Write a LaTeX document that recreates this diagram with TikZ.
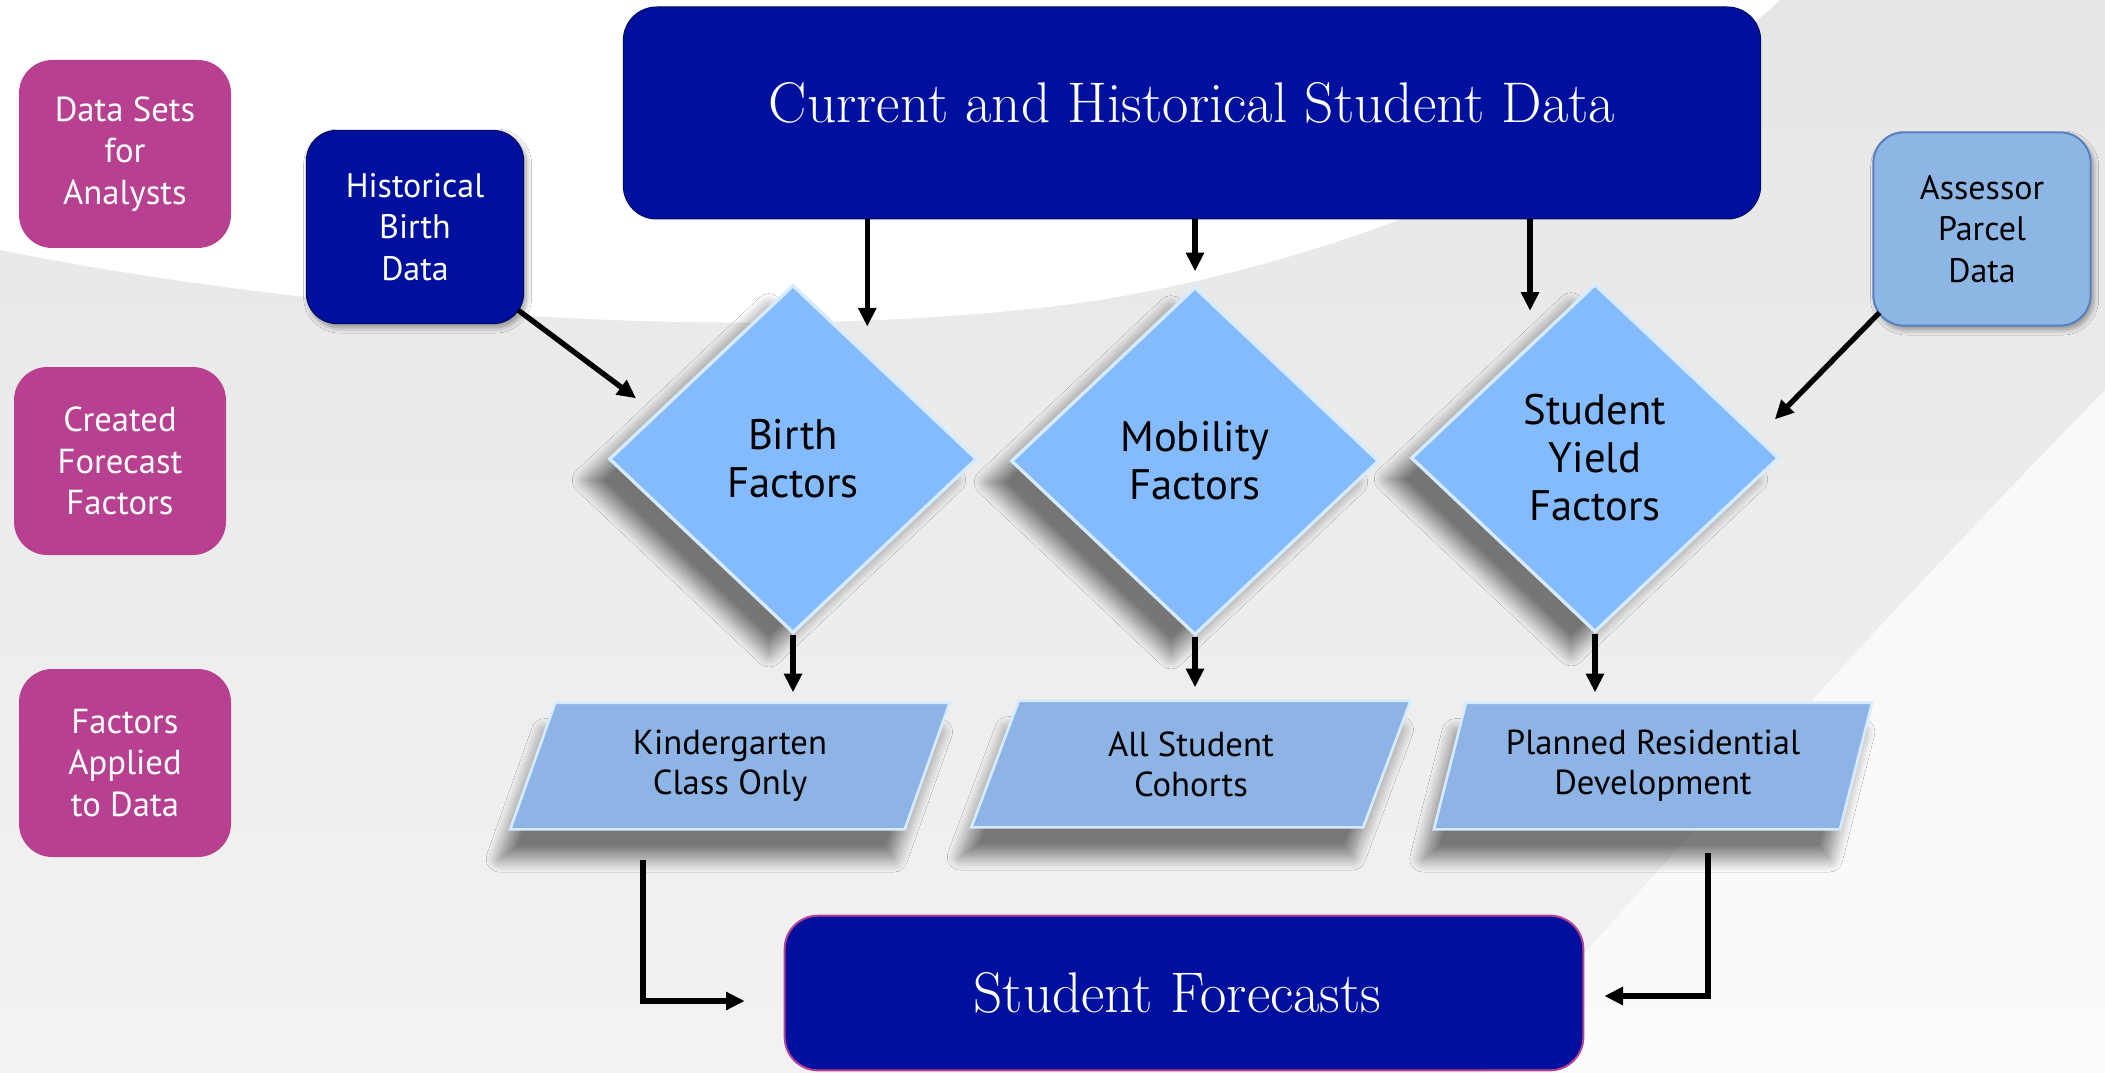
\documentclass[tikz,border=0pt]{standalone}
\usepackage{fontspec}
\setsansfont{PT Sans}
\usetikzlibrary{shapes.geometric,arrows.meta,shadows.blur,calc}

\definecolor{navyBox}{RGB}{0,16,158}
\definecolor{plumBox}{RGB}{183,64,145}
\definecolor{diaBlue}{RGB}{132,187,252}
\definecolor{paraBlue}{RGB}{141,180,228}
\definecolor{paleBlue}{RGB}{141,182,229}
\definecolor{edgeBlue}{RGB}{86,128,190}
\definecolor{shineBlue}{RGB}{214,235,255}
\definecolor{bgGray}{RGB}{230,230,230}

\tikzset{every picture/.style={line width=0.75pt}}
\tikzset{
  legendbox/.style={rectangle, rounded corners=25pt, fill=plumBox, text=white, minimum width=159pt, minimum height=141pt, align=center, font=\sffamily\fontsize{26}{31}\selectfont},
  srcbox/.style={rectangle, rounded corners=23pt, minimum width=163pt, minimum height=145pt, align=center, font=\sffamily\fontsize{25.5}{31}\selectfont, blur shadow={shadow xshift=2pt, shadow yshift=-3pt, shadow blur radius=4pt, shadow blur steps=10, shadow opacity=40}},
  factor/.style={diamond, fill=diaBlue, draw=shineBlue, line width=2.5pt, minimum width=276pt, minimum height=261pt, inner sep=0pt, align=center, font=\sffamily\fontsize{32}{36}\selectfont, blur shadow={shadow xshift=-18pt, shadow yshift=-16pt, shadow blur radius=10pt, shadow blur steps=16, shadow opacity=50}},
  applied/.style={trapezium, trapezium left angle=72, trapezium right angle=108, trapezium stretches=true, fill=paraBlue, draw=shineBlue, line width=2pt, minimum width=330pt, minimum height=95pt, align=center, font=\sffamily\fontsize{26}{30}\selectfont, blur shadow={shadow xshift=-8pt, shadow yshift=-22pt, shadow blur radius=10pt, shadow blur steps=16, shadow opacity=50}},
  bigbox/.style={rectangle, rounded corners=25pt, fill=navyBox, text=white, align=center, font=\rmfamily\addfontfeature{FakeBold=0.8}\fontsize{43}{50}\selectfont},
  arr/.style={line width=4pt, -{Triangle[length=14pt,width=13pt]}},
}

\begin{document}
\begin{tikzpicture}[x=0.75pt,y=0.75pt,yscale=-1,xscale=1]
\useasboundingbox (0,0) rectangle (2105,1073);

%Background
\shade[top color=bgGray, bottom color=white!95!black] (0,0) rectangle (2105,1073);
\fill[white] (0,0) -- (0,250) .. controls (350,320) and (800,345) .. (1100,300) .. controls (1400,250) and (1650,120) .. (1780,0) -- cycle;
\fill[white, opacity=0.7] (1480,1073) .. controls (1700,820) and (1900,600) .. (2105,390) -- (2105,1073) -- cycle;

%Legend boxes
\node (legSets) [legendbox] at (125,154) {Data Sets\\for\\Analysts};
\node (legMade) [legendbox] at (120,461) {Created\\Forecast\\Factors};
\node (legUsed) [legendbox] at (125,763) {Factors\\Applied\\to Data};

%Data sources
\node (top) [bigbox, draw=navyBox!60!black, minimum width=853pt, minimum height=159pt] at (1192,113) {\raisebox{16pt}{Current and Historical Student Data}};
\node (hist) [srcbox, fill=navyBox, draw=navyBox!60!black, text=white] at (415,227) {Historical\\Birth\\Data};
\node (asr) [srcbox, fill=paleBlue, draw=edgeBlue, line width=1.5pt] at (1982,229) {Assessor\\Parcel\\Data};

%Factors
\node (birth) [factor] at (793,459) {Birth\\Factors};
\node (mob) [factor] at (1195,461) {Mobility\\Factors};
\node (yield) [factor] at (1595,458) {Student\\Yield\\Factors};

%Applied to data
\node (kinder) [applied] at (730,766) {Kindergarten\\Class Only};
\node (cohorts) [applied] at (1191,764) {All Student\\Cohorts};
\node (planned) [applied] at (1653,766) {Planned Residential\\Development};

%Result
\node (forecast) [bigbox, draw=plumBox, line width=1.5pt, minimum width=599pt, minimum height=116pt] at (1184,993) {Student Forecasts\hspace*{10pt}};

%Arrows
\coordinate (bIn) at ($(birth.north)!0.4!(birth.east)+(0,-27)$);
\coordinate (yIn) at ($(yield.north)!0.35!(yield.west)+(0,-33)$);
\coordinate (hIn) at ($(birth.west)!0.3!(birth.north)+(-27,-8)$);
\coordinate (aIn) at ($(yield.north)!0.78!(yield.east)+(35,0)$);
\draw[arr] (top.south -| bIn) -- (bIn);
\draw[arr] (top.south -| mob.north) -- ($(mob.north)+(0,-14)$);
\draw[arr] (top.south -| yIn) -- (yIn);
\draw[arr] ($(hist.south east)+(-6,-14)$) -- (hIn);
\draw[arr] ($(asr.south west)+(7,-14)$) -- (aIn);
\draw[arr] (birth.south) -- ($(birth.south |- kinder.north)+(0,-9)$);
\draw[arr] (mob.south) -- ($(mob.south |- cohorts.north)+(0,-12)$);
\draw[arr] (yield.south) -- ($(yield.south |- planned.north)+(0,-9)$);
\draw[arr] ($(kinder.south)+(-87,29)$) |- ($(forecast.west)+(-39,8)$);
\draw[arr] ($(planned.south)+(55,22)$) |- ($(forecast.east)+(20,3)$);

\end{tikzpicture}
\end{document}
